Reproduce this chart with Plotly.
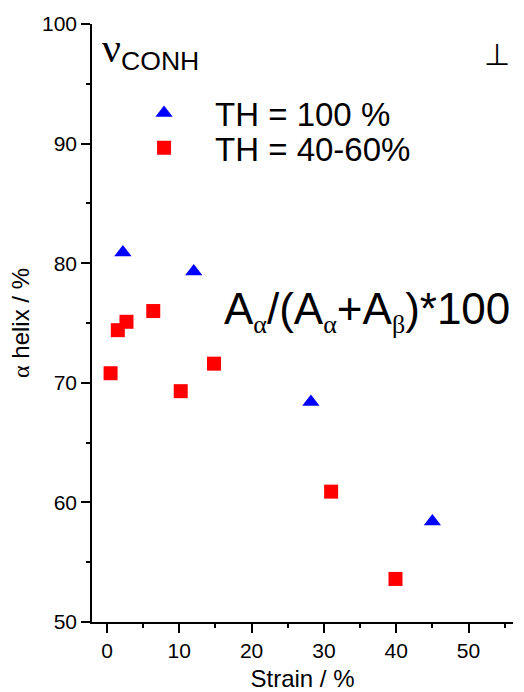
import plotly.graph_objects as go

# Data
strain_th100 = [2.2, 12.0, 28.2, 45.0]
helix_th100 = [80.9, 79.3, 68.4, 58.4]
strain_th4060 = [0.5, 1.5, 2.7, 6.4, 10.2, 14.8, 31.0, 39.9]
helix_th4060 = [70.8, 74.4, 75.1, 76.0, 69.3, 71.6, 60.9, 53.6]

series_names = ["TH = 100 %", "TH = 40-60%"]
x_ticks = [0, 10, 20, 30, 40, 50]
y_ticks = [50, 60, 70, 80, 90, 100]

SANS = "Liberation Sans, Arial, sans-serif"
SERIF = "Liberation Serif, Times New Roman, serif"

fig = go.Figure()
fig.add_trace(go.Scatter(
    x=strain_th100, y=helix_th100, mode="markers", name=series_names[0],
    marker=dict(symbol="triangle-up", size=15, color="#0000ff", line=dict(width=0)),
    legend="legend",
))
fig.add_trace(go.Scatter(
    x=strain_th4060, y=helix_th4060, mode="markers", name=series_names[1],
    marker=dict(symbol="square", size=14, color="#ff0000", line=dict(width=0)),
    legend="legend2",
))

axis_common = dict(
    showline=True, linecolor="black", linewidth=1.5,
    ticks="outside", ticklen=9, tickwidth=1.5, tickcolor="black",
    showgrid=False, zeroline=False, mirror=False,
    tickfont=dict(family=SANS, size=21, color="black"),
    minor=dict(ticks="outside", ticklen=4, tickwidth=1.5, tickcolor="black", dtick=5, showgrid=False),
)

fig.update_xaxes(
    range=[-2.07, 56.15], tickvals=x_ticks,
    title=dict(text="Strain / %", font=dict(family=SANS, size=24, color="black"), standoff=10),
    **axis_common,
)
fig.update_yaxes(
    range=[50, 100], tickvals=y_ticks,
    title=dict(text="<span style='font-family:Liberation Serif'>α</span> helix / %",
               font=dict(family=SANS, size=24, color="black"), standoff=6),
    **axis_common,
)

legend_common = dict(
    xanchor="left", yanchor="middle", bgcolor="rgba(0,0,0,0)",
    font=dict(family=SANS, size=33, color="black"), itemwidth=92,
)
fig.update_layout(
    legend=dict(x=0.05, y=0.851, **legend_common),
    legend2=dict(x=0.05, y=0.793, **legend_common),
    showlegend=True,
)

fig.add_annotation(
    x=0.018, y=0.955, xref="paper", yref="paper", xanchor="left", yanchor="middle",
    text="<span style='font-family:Liberation Serif;font-size:42px'>ν</span><sub>CONH</sub>",
    showarrow=False, font=dict(family=SANS, size=38, color="black"),
)
fig.add_annotation(
    x=0.962, y=0.949, xref="paper", yref="paper", xanchor="center", yanchor="middle",
    text="⊥", showarrow=False, font=dict(family=SANS, size=30, color="black"),
)
fig.add_annotation(
    x=0.309, y=0.52, xref="paper", yref="paper", xanchor="left", yanchor="middle",
    text=("A<sub><span style='font-family:Liberation Serif;font-size:26px'>α</span></sub>/(A"
          "<sub><span style='font-family:Liberation Serif;font-size:26px'>α</span></sub>+A"
          "<sub><span style='font-family:Liberation Serif;font-size:26px'>β</span></sub>)*100"),
    showarrow=False, font=dict(family=SANS, size=44, color="black"),
)

fig.update_layout(
    width=524, height=692,
    margin=dict(l=92, r=11, t=24, b=70, autoexpand=False),
    paper_bgcolor="white", plot_bgcolor="white",
    font=dict(family=SANS, color="black"),
)

fig.write_html("out.html", config={"displayModeBar": False},
               post_script="document.body.style.margin='0px';")
